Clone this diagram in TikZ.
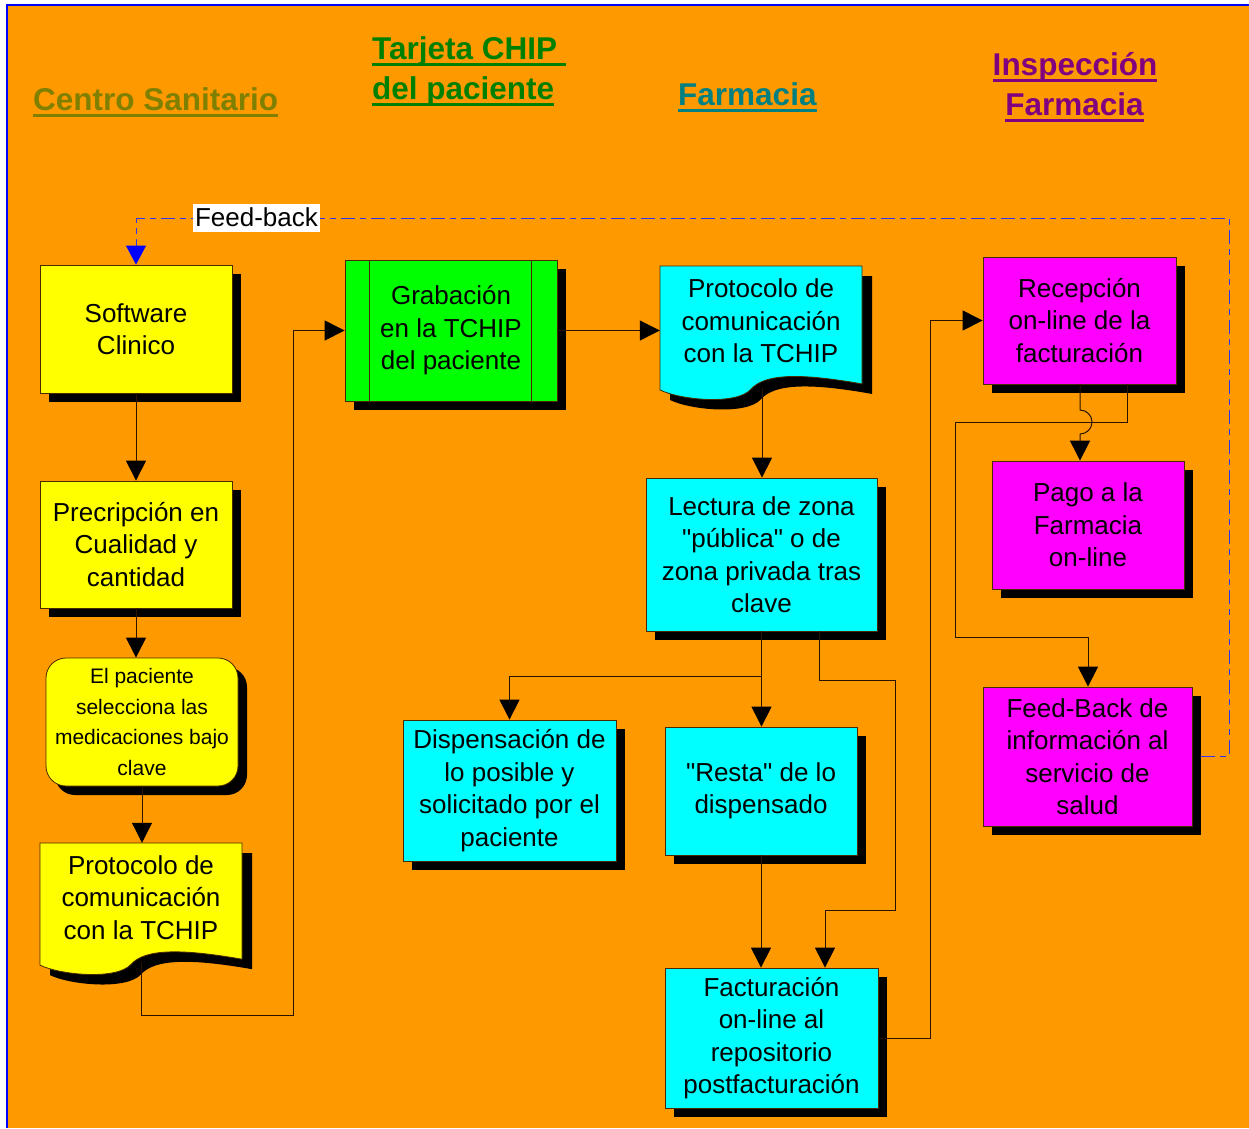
\documentclass[tikz,border=0pt]{standalone}
\usepackage{fontspec}
\setmainfont{Liberation Sans}[Ligatures=TeXOff]
\usetikzlibrary{arrows.meta,shadows,calc}
\definecolor{bg}{HTML}{FF9900}
\definecolor{brd}{HTML}{4A2800}
\definecolor{lnc}{HTML}{2A1400}
\definecolor{cyanb}{HTML}{00FFFF}
\definecolor{yel}{HTML}{FFFF00}
\definecolor{grn}{HTML}{00FF00}
\definecolor{mag}{HTML}{FF00FF}
\definecolor{olv}{HTML}{808000}
\definecolor{dgr}{HTML}{008000}
\definecolor{tea}{HTML}{008080}
\definecolor{pur}{HTML}{800080}
\definecolor{fbc}{HTML}{3333EE}
\newcommand{\ulttl}[1]{\setbox0=\hbox{#1}\rlap{\rule[-7pt]{\wd0}{3.5pt}}\box0}
\newcommand{\docshape}[5]{%
  \fill[black,shift={(10,10)}] (#1,#2) -- ({#1+#3},#2) -- ({#1+#3},{#2+0.88*#4})
    .. controls ({#1+0.7*#3},{#2+0.80*#4}) and ({#1+0.52*#3},{#2+0.80*#4}) .. ({#1+0.45*#3},{#2+0.92*#4})
    .. controls ({#1+0.38*#3},{#2+1.04*#4}) and ({#1+0.1*#3},{#2+1.0*#4}) .. (#1,{#2+0.925*#4}) -- cycle;
  \filldraw[fill=#5,draw=brd,line width=0.8pt] (#1,#2) -- ({#1+#3},#2) -- ({#1+#3},{#2+0.88*#4})
    .. controls ({#1+0.7*#3},{#2+0.80*#4}) and ({#1+0.52*#3},{#2+0.80*#4}) .. ({#1+0.45*#3},{#2+0.92*#4})
    .. controls ({#1+0.38*#3},{#2+1.04*#4}) and ({#1+0.1*#3},{#2+1.0*#4}) .. (#1,{#2+0.925*#4}) -- cycle;}
\tikzset{
  box/.style={rectangle,draw=brd,line width=0.8pt,inner sep=0pt,align=center,
    font=\fontsize{26}{32.5}\selectfont,
    general shadow={fill=black,shadow xshift=9pt,shadow yshift=-9pt}},
  txt/.style={inner sep=0pt,align=center,font=\fontsize{26}{32.5}\selectfont},
  ghost/.style={inner sep=0pt,draw=none},
  conn/.style={draw=lnc,line width=1pt,-{Triangle[width=20pt,length=20pt,black]}},
  fbk/.style={draw=fbc,line width=1pt,dash pattern=on 14pt off 5pt on 6pt off 5pt,
    -{Triangle[width=20pt,length=19pt,blue]}},
  ttl/.style={inner sep=0pt,font=\fontsize{31.5}{38}\selectfont\bfseries}
}
\begin{document}
\begin{tikzpicture}[x=1pt,y=-1pt]
\useasboundingbox (0,0) rectangle (1249,1128);
\fill[white] (0,0) rectangle (1249,1128);
\fill[bg] (7,5) rectangle (1249,1128);
\draw[blue,line width=2.5pt] (7,1128) -- (7,5) -- (1249,5);

% titles
\node[ttl,anchor=base west,text=olv] (t1) at (33,110) {\ulttl{Centro Sanitario}};
\node[ttl,anchor=base west,text=dgr] (t2a) at (372,59) {\ulttl{Tarjeta CHIP\ }};
\node[ttl,anchor=base west,text=dgr] (t2b) at (372,99) {\ulttl{del paciente}};
\node[ttl,anchor=base west,text=tea] (t3) at (678,105) {\ulttl{Farmacia}};
\node[ttl,anchor=base,text=pur] (t4a) at (1075,75) {\ulttl{Inspección}};
\node[ttl,anchor=base,text=pur] (t4b) at (1074.5,115) {\ulttl{Farmacia}};

% left column
\node[box,fill=yel,minimum width=192pt,minimum height=128pt] (sw) at (136,329) {Software\\Clinico};
\node[box,fill=yel,minimum width=192pt,minimum height=127pt] (pre) at (136,544.5) {Precripción en\\Cualidad y\\cantidad};
\node[box,fill=yel,rounded corners=20pt,minimum width=192pt,minimum height=128pt,
  font=\fontsize{21}{30.4}\selectfont] (pac) at (142,722) {El paciente\\selecciona las\\medicaciones bajo\\clave};
\docshape{40}{843}{202}{132}{yel}
\node[ghost,minimum width=202pt,minimum height=132pt] (doc1) at (141,909) {};
\node[txt] (doc1t) at (141,897.5) {Protocolo de\\comunicación\\con la TCHIP};

% chip
\node[box,fill=grn,minimum width=212pt,minimum height=141pt] (grab) at (451,330.5) {Grabación\\en la TCHIP\\del paciente};
\draw[brd,line width=0.8pt] ($(grab.north west)+(25,0)$) -- ($(grab.south west)+(25,0)$);
\draw[brd,line width=0.8pt] ($(grab.north east)+(-26,0)$) -- ($(grab.south east)+(-26,0)$);

% farmacia
\docshape{660}{266}{202}{134}{cyanb}
\node[ghost,minimum width=202pt,minimum height=134pt] (doc2) at (761,333) {};
\node[txt] (doc2t) at (761,321) {Protocolo de\\comunicación\\con la TCHIP};
\node[box,fill=cyanb,minimum width=231pt,minimum height=153pt] (lec) at (761.5,554.5) {Lectura de zona\\"pública" o de\\zona privada tras\\clave};
\node[box,fill=cyanb,minimum width=213pt,minimum height=141pt] (disp) at (509.5,790.5) {Dispensación de\\lo posible y\\solicitado por el\\paciente};
\node[box,fill=cyanb,minimum width=192pt,minimum height=128pt] (resta) at (761,791) {"Resta" de lo\\dispensado};
\node[box,fill=cyanb,minimum width=213pt,minimum height=140pt] (fact) at (771.5,1038) {Facturación\\on-line al\\repositorio\\postfacturación};

% inspeccion
\node[box,fill=mag,minimum width=193pt,minimum height=127pt] (rec) at (1079.5,320.5) {Recepción\\on-line de la\\facturación};
\node[box,fill=mag,minimum width=192pt,minimum height=128pt] (pago) at (1088,525) {Pago a la\\Farmacia\\on-line};
\node[box,fill=mag,minimum width=209pt,minimum height=139pt] (fb) at (1087.5,756.5) {Feed-Back de\\información al\\servicio de\\salud};

% connectors
\draw[conn] (sw.south) -- (pre.north);
\draw[conn] (pre.south) -- (pre.south |- pac.north);
\draw[conn] (pac.south) -- (pac.south |- doc1.north);
\coordinate (d1b) at (141,962);
\coordinate (j1) at (293,1015);
\draw[conn] (d1b) |- (j1) |- (grab.west);
\draw[conn] (grab.east) -- (grab.east -| doc2.west);
\coordinate (d2b) at (762,388);
\draw[conn] (d2b) -- (d2b |- lec.north);
\draw[conn] (lec.south) -- (lec.south |- resta.north);
\coordinate (j2) at (761.5,676);
\draw[conn] (j2) -| (disp.north);
\coordinate (l2) at (819,631);
\coordinate (k1) at (895,680);
\coordinate (k2) at (825,910);
\draw[conn] (l2) |- (k1) |- (k2) -- (k2 |- fact.north);
\draw[conn] (resta.south) -- (resta.south |- fact.north);
\coordinate (k3) at (930,700);
\draw[conn] (fact.east) -| (k3) |- (rec.west);
\coordinate (r1) at (1080,384);
\draw[conn] (r1) -- (1080,410) arc[start angle=-90,end angle=90,radius=12] -- (r1 |- pago.north);
\coordinate (r2) at (1127,384);
\coordinate (m1) at (955,422);
\coordinate (m2) at (1088,637);
\draw[conn] (r2) |- (m1) |- (m2) -- (m2 |- fb.north);

% feedback
\coordinate (c1) at (1229,218);
\draw[fbk] ($(fb.east)+(9,0)$) -| (c1) -| (sw.north);
\node[fill=white,inner xsep=2pt,inner ysep=0pt,text height=22pt,text depth=6pt,
  font=\fontsize{26}{30}\selectfont] (fblab) at (256.5,218) {Feed-back};
\end{tikzpicture}
\end{document}
